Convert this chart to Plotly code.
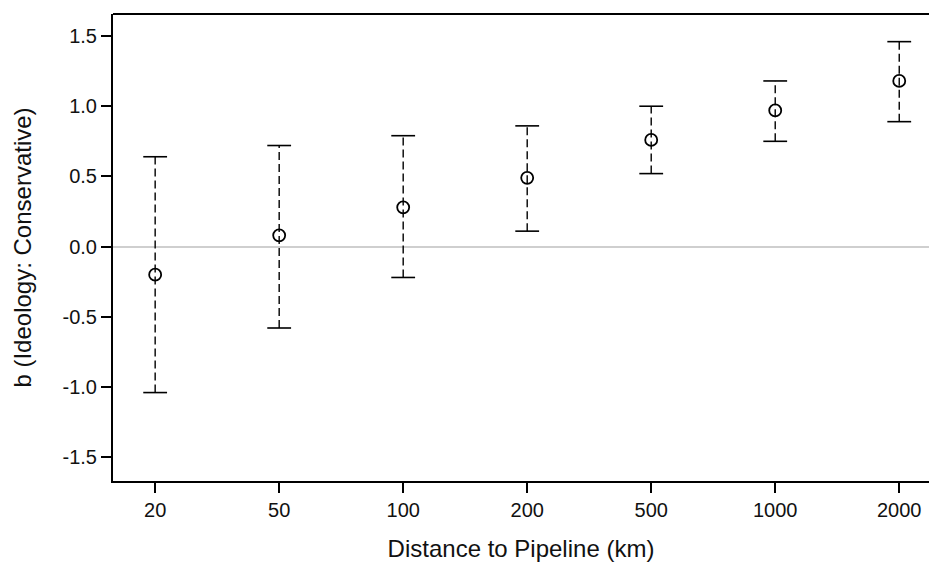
import plotly.graph_objects as go

# distance bands (km) and coefficient estimates with 95% intervals
distances = ["20", "50", "100", "200", "500", "1000", "2000"]
estimate = [-0.20, 0.08, 0.28, 0.49, 0.76, 0.97, 1.18]
lower = [-1.04, -0.58, -0.22, 0.11, 0.52, 0.75, 0.89]
upper = [0.64, 0.72, 0.79, 0.86, 1.00, 1.18, 1.46]

FONT = "Liberation Sans, Arial, sans-serif"

# dashed whiskers, one segment per category, separated by None
wx, wy = [], []
for d, lo, hi in zip(distances, lower, upper):
    wx += [d, d, None]
    wy += [lo, hi, None]

fig = go.Figure()
fig.add_trace(go.Scatter(
    x=wx, y=wy, mode="lines",
    line=dict(color="black", width=1.4, dash="8px,4px"),
    hoverinfo="skip", showlegend=False,
))
# caps
fig.add_trace(go.Scatter(
    x=distances + distances, y=upper + lower, mode="markers",
    marker=dict(symbol="line-ew", size=17, line=dict(color="black", width=1.6)),
    showlegend=False,
))
# point estimates
fig.add_trace(go.Scatter(
    x=distances, y=estimate, mode="markers",
    marker=dict(symbol="circle-open", size=12, color="black", line=dict(color="black", width=1.8)),
    showlegend=False,
))

fig.update_layout(
    width=929, height=565,
    margin=dict(l=113, r=0, t=14, b=84, autoexpand=False),
    plot_bgcolor="white", paper_bgcolor="white",
    font=dict(family=FONT, size=20, color="#111111"),
    xaxis=dict(
        type="category", range=[-0.34, 6.24],
        showline=True, linecolor="black", linewidth=2, mirror=False,
        ticks="outside", ticklen=10, tickwidth=1.5, tickcolor="black",
        showgrid=False, zeroline=False, automargin=False,
        tickfont=dict(size=20),
        title=dict(text="Distance to Pipeline (km)", font=dict(size=24), standoff=20),
    ),
    yaxis=dict(
        range=[-1.67, 1.657],
        tickvals=[-1.5, -1.0, -0.5, 0.0, 0.5, 1.0, 1.5],
        ticktext=["-1.5", "-1.0", "-0.5", "0.0", "0.5", "1.0", "1.5"],
        showline=True, linecolor="black", linewidth=2,
        ticks="outside", ticklen=10, tickwidth=1.5, tickcolor="black",
        showgrid=False, automargin=False,
        tickfont=dict(size=20),
        zeroline=True, zerolinecolor="#cfcfcf", zerolinewidth=2,
        title=dict(text="b (Ideology: Conservative)", font=dict(size=24), standoff=24),
    ),
)
# top frame line
fig.add_shape(type="line", xref="paper", yref="paper", x0=0, x1=1, y0=1, y1=1,
              line=dict(color="black", width=2))

# drop the page's default body margin so the figure sits at the window origin
fig.write_html("out.html", config={"displayModeBar": False},
               post_script="document.body.style.margin='0';")
